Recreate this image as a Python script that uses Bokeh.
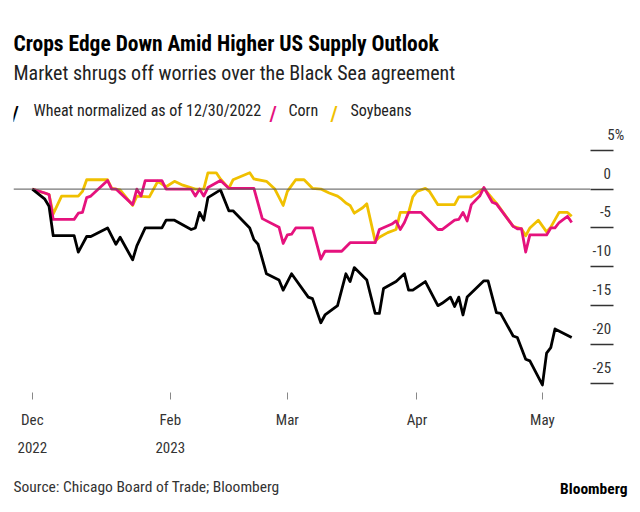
from bokeh.plotting import figure
from bokeh.layouts import column
from bokeh.models import Range1d, FixedTicker, Span, Label, ColumnDataSource
from bokeh.embed import file_html
from bokeh.resources import INLINE
import pandas as pd

# ---------------- data (percent change, normalized as of 12/30/2022) ----------------
wheat_dates = ["2022-12-30", "2023-01-02", "2023-01-03", "2023-01-04", "2023-01-09", "2023-01-10",
               "2023-01-12", "2023-01-13", "2023-01-17", "2023-01-19", "2023-01-20", "2023-01-23",
               "2023-01-24", "2023-01-26", "2023-01-30", "2023-01-31", "2023-02-02", "2023-02-06",
               "2023-02-07", "2023-02-08", "2023-02-09", "2023-02-10", "2023-02-13", "2023-02-15",
               "2023-02-16", "2023-02-20", "2023-02-21", "2023-02-22", "2023-02-24", "2023-02-27",
               "2023-02-28", "2023-03-02", "2023-03-06", "2023-03-07", "2023-03-09", "2023-03-10",
               "2023-03-13", "2023-03-15", "2023-03-16", "2023-03-17", "2023-03-20", "2023-03-22",
               "2023-03-23", "2023-03-24", "2023-03-27", "2023-03-29", "2023-03-30", "2023-03-31",
               "2023-04-03", "2023-04-06", "2023-04-07", "2023-04-09", "2023-04-10", "2023-04-11",
               "2023-04-12", "2023-04-13", "2023-04-17", "2023-04-18", "2023-04-20", "2023-04-21",
               "2023-04-24", "2023-04-25", "2023-04-27", "2023-04-28", "2023-05-01", "2023-05-02",
               "2023-05-03", "2023-05-04", "2023-05-08"]
wheat_values = [0.0, -1.3, -2.2, -6.0, -6.0, -8.1,
                -6.1, -6.1, -5.0, -7.1, -6.2, -9.1,
                -7.3, -5.0, -5.0, -4.0, -4.0, -5.2,
                -5.0, -3.0, -4.0, -1.1, -0.1, -2.8,
                -2.8, -5.0, -6.5, -7.1, -10.9, -11.7,
                -13.0, -10.9, -13.9, -14.1, -17.2, -16.2,
                -15.0, -10.9, -11.9, -10.1, -11.7, -16.0,
                -16.0, -12.8, -11.9, -10.9, -13.0, -13.0,
                -11.9, -15.0, -14.7, -13.9, -15.1, -13.9,
                -16.2, -13.9, -11.8, -11.8, -15.9, -16.0,
                -18.9, -19.1, -21.9, -22.1, -25.2, -21.1,
                -20.4, -18.0, -19.1]

corn_dates = ["2022-12-30", "2023-01-02", "2023-01-03", "2023-01-04", "2023-01-09", "2023-01-10",
              "2023-01-11", "2023-01-12", "2023-01-13", "2023-01-17", "2023-01-18", "2023-01-19",
              "2023-01-23", "2023-01-24", "2023-01-25", "2023-01-26", "2023-01-30", "2023-01-31",
              "2023-02-06", "2023-02-07", "2023-02-08", "2023-02-09", "2023-02-10", "2023-02-13",
              "2023-02-15", "2023-02-21", "2023-02-23", "2023-02-27", "2023-02-28", "2023-03-01",
              "2023-03-02", "2023-03-03", "2023-03-07", "2023-03-09", "2023-03-10", "2023-03-14",
              "2023-03-16", "2023-03-22", "2023-03-23", "2023-03-26", "2023-03-27", "2023-03-28",
              "2023-03-29", "2023-03-30", "2023-04-02", "2023-04-04", "2023-04-06", "2023-04-07",
              "2023-04-10", "2023-04-11", "2023-04-12", "2023-04-13", "2023-04-14", "2023-04-16",
              "2023-04-17", "2023-04-19", "2023-04-20", "2023-04-24", "2023-04-25", "2023-04-26",
              "2023-04-27", "2023-04-28", "2023-05-02", "2023-05-03", "2023-05-04", "2023-05-05",
              "2023-05-07", "2023-05-08"]
corn_values = [0.0, -0.5, -0.7, -3.9, -3.9, -3.1,
               -3.0, -1.1, -0.9, 1.1, 0.0, 0.0,
               -2.0, 0.0, -0.9, 1.1, 1.1, 0.0,
               0.0, -0.9, 0.0, -0.9, 0.2, 1.1,
               0.1, 0.1, -3.8, -4.9, -7.0, -5.9,
               -5.8, -5.0, -5.0, -9.0, -8.0, -8.0,
               -6.9, -6.9, -5.2, -4.5, -4.1, -5.2,
               -4.3, -3.0, -3.0, -4.1, -5.2, -5.2,
               -4.0, -3.9, -3.0, -4.1, -2.0, -0.9,
               0.2, -1.7, -1.9, -4.8, -5.1, -5.1,
               -8.1, -5.9, -5.9, -5.0, -5.0, -4.3,
               -3.5, -4.3]

soy_dates = ["2022-12-30", "2023-01-03", "2023-01-04", "2023-01-06", "2023-01-10", "2023-01-11",
             "2023-01-12", "2023-01-17", "2023-01-18", "2023-01-20", "2023-01-23", "2023-01-24",
             "2023-01-27", "2023-01-29", "2023-01-31", "2023-02-02", "2023-02-04", "2023-02-07",
             "2023-02-09", "2023-02-10", "2023-02-12", "2023-02-13", "2023-02-15", "2023-02-16",
             "2023-02-20", "2023-02-21", "2023-02-24", "2023-02-26", "2023-02-28", "2023-03-01",
             "2023-03-03", "2023-03-05", "2023-03-07", "2023-03-09", "2023-03-11", "2023-03-13",
             "2023-03-14", "2023-03-15", "2023-03-16", "2023-03-17", "2023-03-19", "2023-03-20",
             "2023-03-22", "2023-03-23", "2023-03-25", "2023-03-27", "2023-03-28", "2023-03-30",
             "2023-03-31", "2023-04-01", "2023-04-03", "2023-04-04", "2023-04-06", "2023-04-10",
             "2023-04-11", "2023-04-14", "2023-04-17", "2023-04-19", "2023-04-20", "2023-04-24",
             "2023-04-26", "2023-04-27", "2023-04-28", "2023-04-30", "2023-05-02", "2023-05-03",
             "2023-05-05", "2023-05-07", "2023-05-08"]
soy_values = [0.0, -0.7, -3.2, -0.9, -0.9, -0.3,
              1.2, 1.2, 0.1, -0.1, -2.1, -0.9,
              -1.0, 1.0, 0.3, 1.0, 0.5, 0.0,
              0.0, 2.1, 2.1, 1.3, 0.1, 1.2,
              2.1, 1.3, 1.0, 0.0, -2.1, -0.3,
              1.2, 1.2, 0.1, 0.0, -0.5, -0.9,
              -1.3, -1.8, -2.1, -3.1, -2.4, -1.9,
              -6.7, -6.2, -5.6, -5.2, -3.0, -3.0,
              -1.0, -0.3, 0.1, -0.3, -2.0, -2.0,
              -1.0, -1.0, 0.1, -1.2, -1.8, -4.8,
              -5.1, -6.0, -5.0, -4.0, -5.5, -4.9,
              -3.0, -3.0, -3.5]

x_tick_dates = ["2022-12-30", "2023-02-01", "2023-03-01", "2023-04-01", "2023-05-01"]
x_tick_labels = ["Dec\n2022", "Feb\n2023", "Mar", "Apr", "May"]
y_tick_values = [5, 0, -5, -10, -15, -20, -25]
y_tick_labels = ["5%", "0", "-5", "-10", "-15", "-20", "-25"]

title = "Crops Edge Down Amid Higher US Supply Outlook"
subtitle = "Market shrugs off worries over the Black Sea agreement"
series_names = ["Wheat normalized as of 12/30/2022", "Corn", "Soybeans"]
source_text = "Source: Chicago Board of Trade; Bloomberg"
brand_text = "Bloomberg"

# ---------------- styling ----------------
FONT = "Roboto Condensed"
BLACK, MAGENTA, YELLOW = "#000000", "#e5127d", "#f0c000"
W = 632
MAIN_H, FOOT_H = 460, 44
# frame edges (pixels from the top-left of the page image)
IMG_L, IMG_R, IMG_T, IMG_B = 13, 590, 0, 397
ZERO_Y, PX_PER_PCT = 191.0, 7.87


def ms(s):
    return pd.Timestamp(s).value / 1e6


def sx(X):
    return X - IMG_L


def sy(Y):
    return IMG_B - Y


y_top = (ZERO_Y - IMG_T) / PX_PER_PCT
y_bot = (ZERO_Y - IMG_B) / PX_PER_PCT

p = figure(width=W, height=MAIN_H, output_backend="svg", toolbar_location=None,
           x_axis_type="datetime", y_axis_location="right",
           x_range=Range1d(ms("2022-12-25 12:00"), ms("2023-05-12 12:00")),
           y_range=Range1d(y_bot, y_top),
           min_border_left=IMG_L, min_border_right=W - IMG_R,
           min_border_top=IMG_T, min_border_bottom=MAIN_H - IMG_B)
p.outline_line_color = None
p.background_fill_color = "white"
p.border_fill_color = "white"
p.xgrid.visible = False
p.ygrid.visible = False

# x axis
xa = p.xaxis[0]
xt = [ms(d) for d in x_tick_dates]
xa.ticker = FixedTicker(ticks=xt)
xa.major_label_overrides = {t: l for t, l in zip(xt, x_tick_labels)}
xa.axis_line_color = None
xa.major_tick_in = 0
xa.major_tick_out = 7
xa.major_tick_line_color = "#888888"
xa.minor_tick_line_color = None
xa.major_label_standoff = 11
xa.major_label_text_font = FONT
xa.major_label_text_font_size = "15px"
xa.major_label_text_color = "#333333"
xa.major_label_text_line_height = 1.6

# y axis: labels sit above short rule marks (rule marks drawn as minor ticks)
LABEL_LIFT = 2.0
ya = p.yaxis[0]
label_pos = [v + LABEL_LIFT for v in y_tick_values]
ya.ticker = FixedTicker(ticks=label_pos, minor_ticks=y_tick_values)
pad = {"5%": "\u2007\u2007", "0": "\u2007\u2008", "-5": "\u2007"}
ya.major_label_overrides = {t: pad.get(l, "") + l for t, l in zip(label_pos, y_tick_labels)}
ya.axis_line_color = None
ya.major_tick_in = 0
ya.major_tick_out = 0
ya.major_tick_line_color = None
ya.minor_tick_in = 0
ya.minor_tick_out = 23
ya.minor_tick_line_color = "#333333"
ya.minor_tick_line_width = 1.5
ya.major_label_standoff = -21
ya.major_label_text_font = FONT
ya.major_label_text_font_size = "15px"
ya.major_label_text_color = "#333333"

p.add_layout(Span(location=0, dimension="width", line_color="#555555", line_width=1))

# lines
src_w = ColumnDataSource(dict(x=[ms(d) for d in wheat_dates], y=wheat_values))
src_c = ColumnDataSource(dict(x=[ms(d) for d in corn_dates], y=corn_values))
src_s = ColumnDataSource(dict(x=[ms(d) for d in soy_dates], y=soy_values))
p.line("x", "y", source=src_s, line_color=YELLOW, line_width=2.8, line_join="round")
p.line("x", "y", source=src_c, line_color=MAGENTA, line_width=2.8, line_join="round")
p.line("x", "y", source=src_w, line_color=BLACK, line_width=2.8, line_join="round")


def label(fig, X, Y, text, size, color="#000000", style="normal", align="left", font=FONT):
    fig.add_layout(Label(x=sx(X), y=sy(Y), x_units="screen", y_units="screen", text=text,
                         text_font=font, text_font_size=size, text_font_style=style,
                         text_color=color, text_align=align, text_baseline="alphabetic"))


label(p, 13, 48, title, "21.5px", "#000000", "bold")
label(p, 13, 77, subtitle, "20px", "#222222")
# legend
leg = [(11, 33, BLACK), (269, 288, MAGENTA), (330, 350, YELLOW)]
for (xi, xt_, col), name in zip(leg, series_names):
    label(p, xi, 117, "/", "19px", col, "bold", font="DejaVu Sans")
    label(p, xt_, 115, name, "16px", "#222222")

# footer (source line and brand)
f = figure(width=W, height=FOOT_H, output_backend="svg", toolbar_location=None,
           x_axis_location=None, y_axis_location=None,
           x_range=Range1d(0, W), y_range=Range1d(MAIN_H + FOOT_H, MAIN_H),
           min_border=0)
try:
    f.frame_align = False
except Exception:
    pass
f.outline_line_color = None
f.grid.visible = False
f.add_layout(Label(x=13, y=486, text=source_text, text_font=FONT, text_font_size="15.5px",
                   text_color="#333333", text_baseline="alphabetic"))
f.add_layout(Label(x=627, y=488, text=brand_text, text_font=FONT, text_font_size="15.5px",
                   text_font_style="bold", text_color="#000000", text_align="right",
                   text_baseline="alphabetic"))

layout = column(p, f, spacing=0)
open("out.html", "w").write(file_html(layout, INLINE))
